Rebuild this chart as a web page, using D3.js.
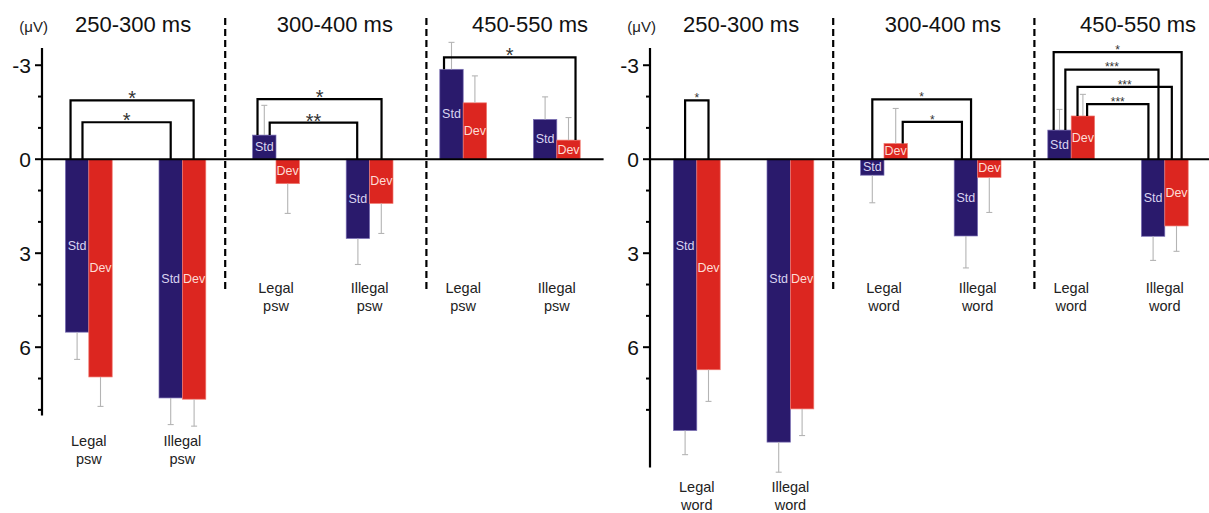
<!DOCTYPE html>
<html><head><meta charset="utf-8">
<script src="https://cdn.jsdelivr.net/npm/d3@7"></script>
<style>
body{margin:0;background:#fff}
svg{display:block}
text{font-family:"Liberation Sans", Arial, Helvetica, sans-serif}
</style>
</head><body>
<svg id="c" width="1209" height="513"></svg>
<script>
// ---------- data ----------
const windows = ["250-300 ms", "300-400 ms", "450-550 ms"];
const conditions = ["Legal", "Illegal"];
const series = ["Std", "Dev"];
const unitLabel = "(μV)";
const yMajorTicks = [-3, 0, 3, 6];
const yMinorTicks = [-3, -2, -1, 0, 1, 2, 3, 4, 5, 6, 7, 8];

// values per window: [Legal, Illegal]  (μV, negative up)
const pswStd    = [[5.52, 7.62], [-0.77, 2.53], [-2.87, -1.27]];
const pswDev    = [[6.95, 7.66], [0.78, 1.41], [-1.80, -0.61]];
const pswStdErr = [[0.87, 0.85], [0.95, 0.83], [0.86, 0.72]];
const pswDevErr = [[0.94, 0.86], [0.95, 0.96], [0.86, 0.72]];

const wordStd    = [[8.66, 9.03], [0.51, 2.45], [-0.93, 2.46]];
const wordDev    = [[6.72, 7.97], [-0.50, 0.58], [-1.38, 2.13]];
const wordStdErr = [[0.77, 0.96], [0.88, 1.02], [0.66, 0.77]];
const wordDevErr = [[1.01, 0.85], [1.12, 1.12], [0.69, 0.81]];

// significance brackets: a/b = [condition, series, attach fraction across bar]
const pswBrackets = [
  {win: 0, a: ["Legal", "Std", 0.22], b: ["Illegal", "Dev", 0.48], top: -1.88, sig: "*"},
  {win: 0, a: ["Legal", "Std", 0.73], b: ["Illegal", "Std", 0.50], top: -1.18, sig: "*"},
  {win: 1, a: ["Legal", "Std", 0.21], b: ["Illegal", "Dev", 0.51], top: -1.92, sig: "*"},
  {win: 1, a: ["Legal", "Std", 0.73], b: ["Illegal", "Std", 0.47], top: -1.17, sig: "**"},
  {win: 2, a: ["Legal", "Std", 0.18], b: ["Illegal", "Dev", 0.80], top: -3.25, sig: "*"}
];
const wordBrackets = [
  {win: 0, a: ["Legal", "Std", 0.50], b: ["Legal", "Dev", 0.50], top: -1.88, sig: "*"},
  {win: 1, a: ["Legal", "Std", 0.50], b: ["Illegal", "Std", 0.72], top: -1.91, sig: "*"},
  {win: 1, a: ["Legal", "Dev", 0.80], b: ["Illegal", "Std", 0.33], top: -1.19, sig: "*"},
  {win: 2, a: ["Legal", "Std", 0.25], b: ["Illegal", "Dev", 0.72], top: -3.42, sig: "*"},
  {win: 2, a: ["Legal", "Std", 0.75], b: ["Illegal", "Std", 0.73], top: -2.86, sig: "***"},
  {win: 2, a: ["Legal", "Dev", 0.27], b: ["Illegal", "Dev", 0.30], top: -2.31, sig: "***"},
  {win: 2, a: ["Legal", "Dev", 0.68], b: ["Illegal", "Std", 0.30], top: -1.76, sig: "***"}
];

// ---------- layout / style ----------
const svg = d3.select("#c");
const y = d3.scaleLinear().domain([-3.55, 9.84]).range([48, 467.5]);
const step = 93.6;
const colStd = "#2a1a6c", colDev = "#dc2620";
const edgeStd = "#7a6fb4", edgeDev = "#f07a70";
const labStd = "#d9d3f0", labDev = "#fcdcd6";
const titleOffsets = [-2.5, 12, 20];
const dashOffsets = [-4, 10];

const panels = [
  {name: "psw", x0: 42, std: pswStd, dev: pswDev, stdErr: pswStdErr, devErr: pswDevErr,
   brackets: pswBrackets, extent: [-3.55, 8.18], zeroEnd: 42 + 6 * step, starSize: 20, starDy: 5, labelSrc: {}},
  {name: "word", x0: 650, std: wordStd, dev: wordDev, stdErr: wordStdErr, devErr: wordDevErr,
   brackets: wordBrackets, extent: [-3.55, 9.84], zeroEnd: 1209, starSize: 12, starDy: 1.8,
   labelSrc: {0: [pswStd[0], pswDev[0]]}}
];

panels.forEach(p => {
  const g = svg.append("g");
  const keys = [];
  windows.forEach((w, wi) => conditions.forEach(c => keys.push(wi + "|" + c)));
  const x = d3.scaleBand().domain(keys).range([p.x0, p.x0 + 6 * step]);
  const xi = d3.scaleBand().domain(series).range([0, x.bandwidth()]).paddingInner(0).paddingOuter(1);
  const bw = xi.bandwidth();

  const bars = [];
  windows.forEach((w, wi) => conditions.forEach((c, ci) => series.forEach(s => {
    const v = s === "Std" ? p.std[wi][ci] : p.dev[wi][ci];
    const e = s === "Std" ? p.stdErr[wi][ci] : p.devErr[wi][ci];
    let lv = v;
    if (p.labelSrc[wi]) lv = p.labelSrc[wi][s === "Std" ? 0 : 1][ci];
    bars.push({wi, c, s, v, e, lv, x: x(wi + "|" + c) + xi(s)});
  })));
  const barOf = (wi, c, s) => bars.find(b => b.wi === wi && b.c === c && b.s === s);

  // dashed separators
  [2, 4].forEach((k, i) => {
    const xx = p.x0 + k * step + dashOffsets[i];
    g.append("line").attr("x1", xx).attr("x2", xx).attr("y1", 18).attr("y2", 291)
      .attr("stroke", "#000").attr("stroke-width", 2.2).attr("stroke-dasharray", "7,4");
  });

  // bars
  g.selectAll("rect.bar").data(bars).join("rect").attr("class", "bar")
    .attr("x", d => d.x).attr("width", bw)
    .attr("y", d => y(Math.min(0, d.v))).attr("height", d => Math.abs(y(d.v) - y(0)))
    .attr("fill", d => d.s === "Std" ? colStd : colDev)
    .attr("stroke", d => d.s === "Std" ? edgeStd : edgeDev).attr("stroke-width", 0.7);

  // error bars
  const eg = g.append("g").attr("stroke", "#b4b4b4").attr("stroke-width", 1.1);
  bars.forEach(d => {
    const cx = d.x + bw / 2;
    const sgn = d.v < 0 ? -1 : 1;
    const y1 = y(d.v), y2 = y(d.v + sgn * d.e);
    eg.append("line").attr("x1", cx).attr("x2", cx).attr("y1", y1).attr("y2", y2);
    eg.append("line").attr("x1", cx - 3).attr("x2", cx + 3).attr("y1", y2).attr("y2", y2);
  });

  // Std/Dev labels
  g.selectAll("text.bl").data(bars).join("text").attr("class", "bl")
    .attr("x", d => d.x + bw / 2).attr("y", d => (y(0) + y(d.lv)) / 2)
    .attr("text-anchor", "middle").attr("dominant-baseline", "central")
    .attr("font-size", 12.5).attr("fill", d => d.s === "Std" ? labStd : labDev)
    .text(d => d.s);

  // zero line
  g.append("line").attr("x1", p.x0).attr("x2", p.zeroEnd).attr("y1", y(0)).attr("y2", y(0))
    .attr("stroke", "#000").attr("stroke-width", 2);

  // y axis
  g.append("line").attr("x1", p.x0).attr("x2", p.x0).attr("y1", y(p.extent[0])).attr("y2", y(p.extent[1]))
    .attr("stroke", "#000").attr("stroke-width", 2.2);
  yMinorTicks.forEach(t => {
    const major = yMajorTicks.includes(t);
    g.append("line").attr("x1", p.x0 - (major ? 7 : 4)).attr("x2", p.x0).attr("y1", y(t)).attr("y2", y(t))
      .attr("stroke", "#000").attr("stroke-width", 2);
  });
  yMajorTicks.forEach(t => {
    g.append("text").attr("x", p.x0 - 11).attr("y", y(t)).attr("text-anchor", "end")
      .attr("dominant-baseline", "central").attr("font-size", 21).attr("fill", "#111").text(t);
  });
  g.append("text").attr("x", p.x0 + 6).attr("y", 32).attr("text-anchor", "end")
    .attr("font-size", 15).attr("fill", "#222").text(unitLabel);

  // titles
  windows.forEach((w, wi) => {
    const cx = p.x0 + (wi * 2 + 1) * step + titleOffsets[wi];
    g.append("text").attr("x", cx).attr("y", 32).attr("text-anchor", "middle")
      .attr("font-size", 22).attr("fill", "#111").text(w);
  });

  // category labels
  windows.forEach((w, wi) => {
    const lows = bars.filter(b => b.wi === wi).map(b => y(b.v + (b.v < 0 ? -1 : 1) * b.e));
    const base = Math.max(293, d3.max(lows) + 20);
    conditions.forEach(c => {
      const cx = x(wi + "|" + c) + x.bandwidth() / 2;
      const t = g.append("text").attr("text-anchor", "middle").attr("font-size", 14.5).attr("fill", "#222");
      t.append("tspan").attr("x", cx).attr("y", base).text(c);
      t.append("tspan").attr("x", cx).attr("y", base + 18).text(p.name);
    });
  });

  // significance brackets
  p.brackets.forEach(br => {
    const A = barOf(br.win, br.a[0], br.a[1]), B = barOf(br.win, br.b[0], br.b[1]);
    const xa = A.x + br.a[2] * bw, xb = B.x + br.b[2] * bw;
    const ya = y(Math.min(0, A.v)), yb = y(Math.min(0, B.v)), yt = y(br.top);
    g.append("path").attr("d", `M${xa},${ya}V${yt}H${xb}V${yb}`)
      .attr("fill", "none").attr("stroke", "#000").attr("stroke-width", 2.2);
    g.append("text").attr("x", (xa + xb) / 2).attr("y", yt + p.starDy).attr("text-anchor", "middle")
      .attr("font-size", p.starSize).attr("fill", "#333").text(br.sig);
  });
});
</script>
</body></html>
